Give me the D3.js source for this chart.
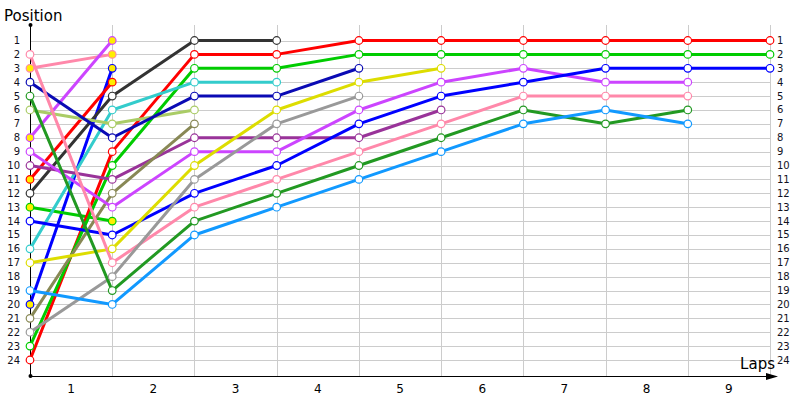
<!DOCTYPE html>
<html>
<head>
<meta charset="utf-8">
<script src="https://cdn.jsdelivr.net/npm/d3@7"></script>
<style>
body { margin: 0; background: #fff; }
svg text { font-family: "DejaVu Sans", sans-serif; }
</style>
</head>
<body>
<div class="chart"></div>
<script>
var svgWidth = 800;
var svgHeight = 400;

// laps 0 (start) .. 9
var lapLabels = ["1", "2", "3", "4", "5", "6", "7", "8", "9"];
var positionTicks = d3.range(1, 25);

var seriesColors = ["#ff88aa", "#cc44ff", "#0000ff", "#ff0000", "#00cc00",
    "#ff0000", "#00cc00", "#333333", "#33cccc", "#aacc66", "#0a0ab4", "#993399",
    "#888855", "#cc44ff", "#0000ff", "#dddd00", "#ff88aa", "#999999", "#229922", "#1199ff"];

// position per lap, starting with the grid position
var seriesPositions = [
    [3, 2],
    [8, 1],
    [20, 3],
    [11, 4],
    [13, 14],
    [24, 9, 2, 2, 1, 1, 1, 1, 1, 1],
    [23, 10, 3, 3, 2, 2, 2, 2, 2, 2],
    [12, 5, 1, 1],
    [16, 6, 4, 4],
    [6, 7, 6],
    [4, 8, 5, 5, 3],
    [10, 11, 8, 8, 8, 6],
    [21, 12, 7],
    [9, 13, 9, 9, 6, 4, 3, 4, 4],
    [14, 15, 12, 10, 7, 5, 4, 3, 3, 3],
    [17, 16, 10, 6, 4, 3],
    [2, 17, 13, 11, 9, 7, 5, 5, 5],
    [22, 18, 11, 7, 5],
    [5, 19, 14, 12, 10, 8, 6, 7, 6],
    [19, 20, 15, 13, 11, 9, 7, 6, 7]
];
var seriesRetired = [true, true, true, true, true,
    false, false, false, false, false, false, false, false, false, false, false, false, false, false, false];

var plotLeft = 30, plotRight = 770, plotTop = 40.5, plotBottom = 360, axisY = 376;

var $svg = d3.select(".chart")
    .append("svg")
    .attr("width", svgWidth)
    .attr("height", svgHeight);

var xScale = d3.scaleLinear().domain([0, 9]).range([plotLeft, plotRight]);
var yScale = d3.scaleLinear().domain([1, 24]).range([plotTop, plotBottom]);

// grid
$svg.append("g")
    .selectAll("line")
    .data(positionTicks)
    .enter()
    .append("line")
    .attr("x1", plotLeft).attr("x2", plotRight)
    .attr("y1", d=>Math.round(yScale(d)) + 0.5).attr("y2", d=>Math.round(yScale(d)) + 0.5)
    .attr("stroke", "#cccccc");

$svg.append("g")
    .selectAll("line")
    .data(d3.range(1, 10))
    .enter()
    .append("line")
    .attr("x1", d=>Math.round(xScale(d)) + 0.5).attr("x2", d=>Math.round(xScale(d)) + 0.5)
    .attr("y1", 25).attr("y2", axisY)
    .attr("stroke", "#cccccc");

// axes
$svg.append("line")
    .attr("x1", plotLeft + 0.5).attr("x2", plotLeft + 0.5)
    .attr("y1", 25).attr("y2", axisY)
    .attr("stroke", "black");
$svg.append("circle").attr("cx", plotLeft + 0.5).attr("cy", 25).attr("r", 2).attr("fill", "black");
$svg.append("circle").attr("cx", plotLeft + 0.5).attr("cy", axisY).attr("r", 2).attr("fill", "black");
$svg.append("line")
    .attr("x1", plotLeft).attr("x2", 772)
    .attr("y1", axisY + 0.5).attr("y2", axisY + 0.5)
    .attr("stroke", "black");
$svg.append("path")
    .attr("d", `M766,${axisY - 3} L778,${axisY + 0.5} L766,${axisY + 4} Z`)
    .attr("fill", "black");

$svg.append("g")
    .attr("text-anchor", "end")
    .selectAll("text")
    .data(positionTicks)
    .enter()
    .append("text")
    .attr("x", 20)
    .attr("y", d=>yScale(d))
    .attr("dy", "0.35em")
    .style("font-size", "10px")
    .attr("fill", "#111122")
    .text(d=>d);

$svg.append("g")
    .selectAll("text")
    .data(positionTicks)
    .enter()
    .append("text")
    .attr("x", 777)
    .attr("y", d=>yScale(d))
    .attr("dy", "0.35em")
    .style("font-size", "10px")
    .attr("fill", "#111122")
    .text(d=>d);

$svg.append("g")
    .attr("text-anchor", "middle")
    .selectAll("text")
    .data(lapLabels)
    .enter()
    .append("text")
    .attr("x", (d,i)=>xScale(i + 0.5))
    .attr("y", 393)
    .style("font-size", "12px")
    .attr("fill", "black")
    .text(d=>d);

$svg.append("text")
    .attr("x", 4).attr("y", 21)
    .style("font-size", "15px")
    .text("Position");

$svg.append("text")
    .attr("x", 775).attr("y", 369)
    .attr("text-anchor", "end")
    .style("font-size", "15px")
    .text("Laps");

// lines
var line = d3.line()
    .x((d,i)=>xScale(i))
    .y(d=>yScale(d));

$svg.append("g")
    .selectAll("path")
    .data(seriesPositions)
    .enter()
    .append("path")
    .attr("d", d=>line(d))
    .attr("fill", "none")
    .attr("stroke", (d,i)=>seriesColors[i])
    .attr("stroke-width", 3)
    .attr("stroke-linejoin", "round");

seriesPositions.forEach((pos, s)=>{
    $svg.append("g")
        .selectAll("circle")
        .data(pos)
        .enter()
        .append("circle")
        .attr("cx", (d,i)=>xScale(i))
        .attr("cy", d=>yScale(d))
        .attr("r", 3.8)
        .attr("fill", seriesRetired[s] ? "#ffee00" : "white")
        .attr("stroke", seriesColors[s])
        .attr("stroke-width", 1.2);
});
</script>
</body>
</html>
